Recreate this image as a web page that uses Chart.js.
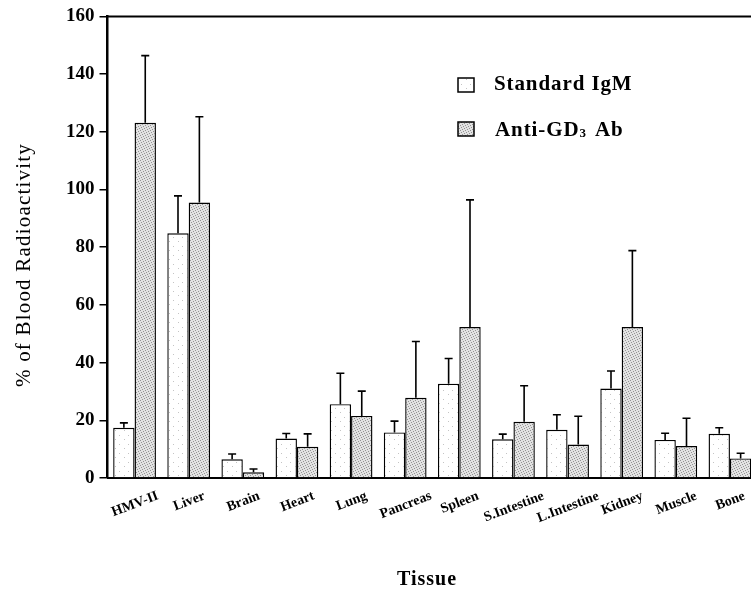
<!DOCTYPE html>
<html>
<head>
<meta charset="utf-8">
<script src="https://cdn.jsdelivr.net/npm/chart.js@4/dist/chart.umd.min.js"></script>
<style>
  html, body { margin: 0; padding: 0; background: #fff; overflow: hidden; }
  #wrap { width: 760px; height: 593px; }
</style>
</head>
<body>
<div id="wrap"><canvas id="chart" width="760" height="593"></canvas></div>
<script>
// values (mean and upward SD, % of blood radioactivity)
const tissues = ["HMV-II", "Liver", "Brain", "Heart", "Lung", "Pancreas", "Spleen",
  "S.Intestine", "L.Intestine", "Kidney", "Muscle", "Bone"]
const standardIgM = [17.4, 84.8, 6.5, 13.7, 25.6, 15.8, 32.7, 13.4, 16.7, 31.0, 13.2, 15.3]
const standardErr = [1.7, 13.0, 1.8, 1.7, 10.7, 3.9, 8.7, 1.8, 5.2, 6.1, 2.3, 2.1]
const antiGD3 = [123.1, 95.5, 2.0, 10.8, 21.5, 27.8, 52.3, 19.5, 11.6, 52.3, 11.1, 6.8]
const antiErr = [23.3, 29.7, 1.1, 4.5, 8.6, 19.5, 44.1, 12.5, 9.8, 26.5, 9.6, 1.8]
const yTicks = [0, 20, 40, 60, 80, 100, 120, 140, 160]

const SERIF = "'Liberation Serif', 'Times New Roman', serif"
const canvas = document.getElementById("chart")
const ctx = canvas.getContext("2d")

// stippled fills like the printed halftone
function stipple(bg, dot, size, dots) {
  const tile = document.createElement("canvas")
  tile.width = tile.height = size
  const g = tile.getContext("2d")
  g.fillStyle = bg
  g.fillRect(0, 0, size, size)
  g.fillStyle = dot
  dots.forEach(([x, y]) => g.fillRect(x, y, 1, 1))
  return ctx.createPattern(tile, "repeat")
}
const lightFill = stipple("#ffffff", "#c4c4c4", 9, [[2, 3], [7, 7]])
const greyFill = stipple("#e2e2e2", "#939393", 5, [[0, 0], [3, 1], [1, 2], [4, 3], [2, 4]])

const errors = [standardErr, antiErr]

const errorBars = {
  id: "errorBars",
  afterDatasetsDraw(chart) {
    const y = chart.scales.y
    const c = chart.ctx
    c.save()
    c.strokeStyle = "#000"
    c.lineWidth = 1.6
    chart.data.datasets.forEach((ds, d) => {
      chart.getDatasetMeta(d).data.forEach((bar, i) => {
        const top = y.getPixelForValue(ds.data[i] + errors[d][i])
        c.beginPath()
        c.moveTo(bar.x, bar.y)
        c.lineTo(bar.x, top)
        c.moveTo(bar.x - 4, top)
        c.lineTo(bar.x + 4, top)
        c.stroke()
      })
    })
    c.restore()
  }
}

const decorations = {
  id: "decorations",
  afterDraw(chart) {
    const c = chart.ctx
    const area = chart.chartArea
    const x = chart.scales.x
    c.save()

    // top frame line
    c.strokeStyle = "#000"
    c.lineWidth = 2
    c.beginPath()
    c.moveTo(area.left, area.top)
    c.lineTo(area.right, area.top)
    c.stroke()

    // rotated category labels, centred under each pair
    const angle = 21 * Math.PI / 180
    c.font = "bold 14px " + SERIF
    c.fillStyle = "#000"
    c.textAlign = "right"
    c.textBaseline = "top"
    tissues.forEach((name, i) => {
      const cx = x.getPixelForValue(i) - 4
      const w = c.measureText(name).width
      c.save()
      c.translate(cx + w / 2 * Math.cos(angle) + 2, area.bottom + 11)
      c.rotate(-angle)
      c.fillText(name, 0, 0)
      c.restore()
    })

    // axis titles
    c.textAlign = "center"
    c.textBaseline = "alphabetic"
    c.font = "bold 20px " + SERIF
    c.letterSpacing = "1px"
    c.fillText("Tissue", 427, 585)

    c.save()
    c.translate(30, 265)
    c.rotate(-Math.PI / 2)
    c.font = "21px " + SERIF
    c.letterSpacing = "1.2px"
    c.fillText("% of Blood Radioactivity", 0, 0)
    c.restore()

    // legend
    const boxes = [[lightFill, 78], [greyFill, 122]]
    boxes.forEach(([fill, top]) => {
      c.fillStyle = fill
      c.fillRect(458, top, 16, 14)
      c.strokeStyle = "#000"
      c.lineWidth = 1.5
      c.strokeRect(458, top, 16, 14)
    })
    c.fillStyle = "#000"
    c.textAlign = "left"
    c.letterSpacing = "0.9px"
    c.font = "bold 21px " + SERIF
    c.fillText("Standard IgM", 494, 90)
    let tx = 495
    c.fillText("Anti-GD", tx, 136)
    tx += c.measureText("Anti-GD").width
    c.font = "bold 13px " + SERIF
    c.fillText("3", tx, 137)
    tx += c.measureText("3").width + 2
    c.font = "bold 21px " + SERIF
    c.fillText(" Ab", tx, 136)
    c.restore()
  }
}

new Chart(ctx, {
  type: "bar",
  data: {
    labels: tissues,
    datasets: [
      {
        label: "Standard IgM",
        data: standardIgM,
        backgroundColor: lightFill,
        borderColor: "#000",
        borderWidth: 1.4
      },
      {
        label: "Anti-GD3 Ab",
        data: antiGD3,
        backgroundColor: greyFill,
        borderColor: "#000",
        borderWidth: 1.4
      }
    ]
  },
  options: {
    responsive: false,
    animation: false,
    layout: { padding: { left: 63.5, top: 15, right: 3, bottom: 115 } },
    plugins: { legend: { display: false }, tooltip: { enabled: false } },
    datasets: { bar: { categoryPercentage: 0.79, barPercentage: 1.0 } },
    scales: {
      x: {
        grid: { display: false },
        ticks: { display: false },
        border: { color: "#000", width: 2 },
        afterFit(scale) { scale.height = 0 }
      },
      y: {
        min: 0,
        max: 160,
        afterBuildTicks(scale) { scale.ticks = yTicks.map(v => ({ value: v })) },
        grid: { drawOnChartArea: false, tickLength: 8, color: "#000", lineWidth: 1.5 },
        border: { color: "#000", width: 2.5 },
        ticks: {
          padding: 5,
          color: "#000",
          font: { family: SERIF, size: 19, weight: "bold" }
        },
        afterFit(scale) { scale.width = 44 }
      }
    }
  },
  plugins: [errorBars, decorations]
})
</script>
</body>
</html>
